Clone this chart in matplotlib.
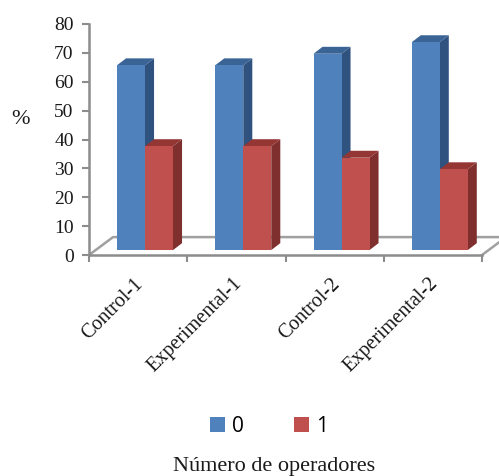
import matplotlib
matplotlib.use('Agg')
import matplotlib.pyplot as plt

categories = ['Control-1', 'Experimental-1', 'Control-2', 'Experimental-2']
series_names = ['0', '1']
values_0 = [64, 64, 68, 72]
values_1 = [36, 36, 32, 28]
y_ticks = [0, 10, 20, 30, 40, 50, 60, 70, 80]

W, H = 499, 476
serif = 'Liberation Serif'
axis_grey = '#8c8c8c'

fig = plt.figure(figsize=(W / 100, H / 100), dpi=100)
ax = fig.add_axes([89 / W, 1 - 255 / H, (482 - 89) / W, (255 - 24) / H])
ax.set_xlim(0, 4)
ax.set_ylim(0, 80)

# fake 3d depth, in data units
bar_w = 0.285
gap = 0.285
dx = 0.092
dy = 2.4
base = 1.7


def draw_bars(starts, vals, front, side, top):
    bars = ax.bar(starts, vals, width=bar_w, bottom=base, align='edge', color=front, zorder=3)
    for x, v in zip(starts, vals):
        t = base + v
        ax.fill([x + bar_w, x + bar_w + dx, x + bar_w + dx, x + bar_w],
                [base, base + dy, t + dy, t], color=side, lw=0, zorder=2)
        ax.fill([x, x + dx, x + bar_w + dx, x + bar_w],
                [t, t + dy, t + dy, t], color=top, lw=0, zorder=2)
    return bars


pos = list(range(len(categories)))
blue = draw_bars([p + gap for p in pos], values_0, '#4f81bd', '#30527e', '#3a6496')
red = draw_bars([p + gap + bar_w for p in pos], values_1, '#c0504d', '#7f2f2d', '#943634')

# floor
floor_x = 0.245
floor_y = 6.2
ax.plot([0, floor_x, 4 + floor_x], [0, floor_y, floor_y], color='#a0a0a0', lw=1.8, zorder=1, clip_on=False)
ax.plot([4, 4 + floor_x], [0, floor_y], color='#a0a0a0', lw=1.8, zorder=1, clip_on=False)

for s in ['top', 'right']:
    ax.spines[s].set_visible(False)
for s in ['left', 'bottom']:
    ax.spines[s].set_color(axis_grey)
    ax.spines[s].set_linewidth(1.8)

ax.set_yticks(y_ticks)
ax.set_xticks([0, 1, 2, 3, 4])
ax.set_xticklabels([])
ax.tick_params(axis='both', color=axis_grey, width=1.5, length=5)
ax.tick_params(axis='y', pad=6)
ax.set_yticklabels(y_ticks, family=serif, fontsize=14, color='#1a1a1a')

for p, c in zip(pos, categories):
    ax.annotate(c, xy=(p + 0.5, 0), xytext=(-3, -14), textcoords='offset points',
                rotation=45, ha='right', va='top', rotation_mode='anchor',
                family=serif, fontsize=14.5, color='#1a1a1a')

fig.text(21 / W, 1 - 119 / H, '%', family=serif, fontsize=16, ha='center', va='center', color='#1a1a1a')
fig.text(274 / W, 1 - 466 / H, 'Número de operadores', family=serif, fontsize=16,
         ha='center', va='center', color='#1a1a1a')

fig.legend([blue, red], series_names, loc='center', bbox_to_anchor=(269 / W, 1 - 426 / H), ncol=2,
           frameon=False, prop={'family': 'Open Sans', 'size': 15}, handlelength=0.72, handleheight=0.72,
           handletextpad=0.35, columnspacing=2.4, borderpad=0)

fig.savefig('out.png', dpi=100)
